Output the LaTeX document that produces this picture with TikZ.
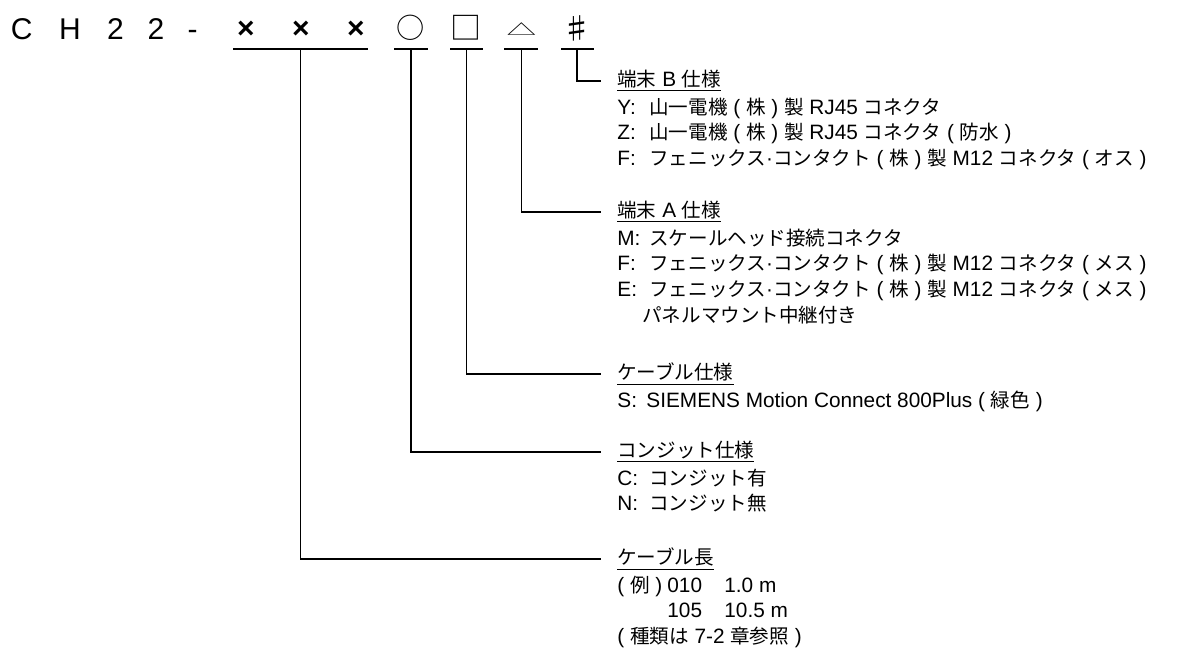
\documentclass[tikz,border=0pt]{standalone}
\usepackage{fontspec}
\setmainfont{Liberation Sans}
\newfontfamily\jpfont[Scale=0.94]{Noto Sans CJK JP}
\newcommand{\jp}[1]{{\jpfont #1}}
\newcommand{\key}[2][16pt]{\makebox[#1][l]{#2}}
\usetikzlibrary{positioning}

\tikzset{
	code/.style={anchor=base, inner sep=0pt, font=\fontsize{15}{18}\selectfont},
	sym/.style={inner sep=0pt, font=\jpfont\fontsize{15}{18}\selectfont},
	head/.style={anchor=west, inner sep=0pt, font=\fontsize{10.4}{12.8}\selectfont},
	body/.style={align=left, inner sep=0pt, font=\fontsize{10.4}{12.8}\selectfont},
	rule/.style={line width=0.6pt},
	lead/.style={line width=0.6pt},
}

\begin{document}
\begin{tikzpicture}[x=0.5pt,y=-0.5pt]
	\useasboundingbox (0,0) rectangle (1189,651);
	%\draw[help lines,step=50] (0,0) grid (1189,651);

	% model code
	\foreach \ch/\x [count=\i] in {C/21.7, H/70, 2/115.5, 2/156, -/192.5}
		\node[code] (k\i) at (\x,40) {\ch};
	\foreach \x [count=\i] in {246,301,356}
		\node[code] (x\i) at (\x,39) {\bfseries ×};
	\node[sym] (circ) at (411,27.5) {○};
	\node[sym, font=\jpfont\fontsize{16.5}{18}\selectfont] (squ) at (466.5,27.5) {□};
	\node[sym] (tri) at (521.5,29.5) {\scalebox{1.05}[0.55]{△}};
	\node[sym, font=\jpfont\fontsize{15.5}{18}\selectfont] (sharp) at (577,28) {♯};

	% underlines
	\draw[rule] (233,49) -- (368,49);
	\draw[rule] (394,49) -- (428,49);
	\draw[rule] (450,49) -- (483,49);
	\draw[rule] (504,49) -- (538,49);
	\draw[rule] (561,49) -- (594,49);

	\coordinate (c-len) at (300.7,49);
	\coordinate (c-cond) at (411,49);
	\coordinate (c-cable) at (466.5,49);
	\coordinate (c-endA) at (521.5,49);
	\coordinate (c-endB) at (577,49);

	% headings
	\node[head] (h-endB) at (617,81) {\underline{\jp{端末} B \jp{仕様}}};
	\node[head] (h-endA) at (617,212) {\underline{\jp{端末} A \jp{仕様}}};
	\node[head] (h-cable) at (617,374) {\underline{\jp{ケーブル仕様}}};
	\node[head] (h-cond) at (617,452) {\underline{\jp{コンジット仕様}}};
	\node[head] (h-len) at (617,559) {\underline{\jp{ケーブル長}}};

	% options
	\node[body, below right=2.5pt and 0pt of h-endB.south west] (b-endB) {%
		\key{Y:}\jp{山一電機} ( \jp{株} ) \jp{製} RJ45 \jp{コネクタ}\\
		\key{Z:}\jp{山一電機} ( \jp{株} ) \jp{製} RJ45 \jp{コネクタ} ( \jp{防水} )\\
		\key{F:}\jp{フェニックス}·\jp{コンタクト} ( \jp{株} ) \jp{製} M12 \jp{コネクタ} ( \jp{オス} )};
	\node[body, below right=2.5pt and 0pt of h-endA.south west] (b-endA) {%
		\key{M:}\jp{スケールヘッド接続コネクタ}\\
		\key{F:}\jp{フェニックス}·\jp{コンタクト} ( \jp{株} ) \jp{製} M12 \jp{コネクタ} ( \jp{メス} )\\
		\key{E:}\jp{フェニックス}·\jp{コンタクト} ( \jp{株} ) \jp{製} M12 \jp{コネクタ} ( \jp{メス} )\\
		\hspace*{12.5pt}\jp{パネルマウント中継付き}};
	\node[body, below right=2.5pt and 0pt of h-cable.south west] (b-cable) {%
		\key[14.5pt]{S:}SIEMENS Motion Connect 800Plus ( \jp{緑色} )};
	\node[body, below right=2.5pt and 0pt of h-cond.south west] (b-cond) {%
		\key{C:}\jp{コンジット有}\\
		\key{N:}\jp{コンジット無}};
	\node[body, below right=2.5pt and 0pt of h-len.south west] (b-len) {%
		\makebox[25pt][l]{( \jp{例} )}\makebox[28.5pt][l]{010}1.0 m\\
		\hspace*{25pt}\makebox[28.5pt][l]{105}10.5 m\\
		( \jp{種類は} 7-2 \jp{章参照} )};

	% leaders
	\draw[lead] (c-endB) |- ([xshift=-8pt]h-endB.west);
	\draw[lead] (c-endA) |- ([xshift=-8pt]h-endA.west);
	\draw[lead] (c-cable) |- ([xshift=-8pt]h-cable.west);
	\draw[lead] (c-cond) |- ([xshift=-8pt]h-cond.west);
	\draw[lead] (c-len) |- ([xshift=-8pt]h-len.west);
\end{tikzpicture}
\end{document}
